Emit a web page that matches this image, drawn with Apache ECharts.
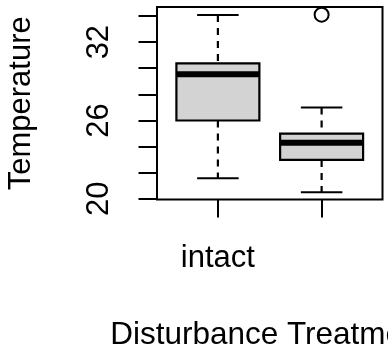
<!DOCTYPE html>
<html>
<head>
<meta charset="utf-8">
<script src="https://cdn.jsdelivr.net/npm/echarts@6/dist/echarts.min.js"></script>
<style>
	html, body { margin: 0; padding: 0; background: #fff; }
	#chart { width: 388px; height: 346px; }
</style>
</head>
<body>
<div id="chart"></div>
<script>
// 数据
var categories = ['intact', ''];
var positions = [1, 2];
var lowWhisker = [21.58, 20.51];
var q1 = [26.0, 22.98];
var median = [29.54, 24.3];
var q3 = [30.37, 25.0];
var highWhisker = [34.08, 27.0];
var outliers = [[2, 34.1]];
var yTicks = [20, 22, 24, 26, 28, 30, 32, 34];
var yLabels = [20, 26, 32];

var FONT = '"Liberation Sans", Arial, sans-serif';

var boxData = [];
for (var i = 0; i < positions.length; i++) {
	boxData.push([positions[i], lowWhisker[i], q1[i], median[i], q3[i], highWhisker[i]]);
}

// 箱线图绘制
function renderBox(params, api) {
	var x = api.value(0);
	var pLow = api.coord([x, api.value(1)]);
	var pQ1 = api.coord([x, api.value(2)]);
	var pMed = api.coord([x, api.value(3)]);
	var pQ3 = api.coord([x, api.value(4)]);
	var pHigh = api.coord([x, api.value(5)]);
	var half = api.size([0.4, 0])[0];
	var cap = api.size([0.2, 0])[0];
	var cx = pMed[0];
	var line = { stroke: '#000', lineWidth: 2 };
	var dash = { stroke: '#000', lineWidth: 2.2, lineDash: [7, 6] };
	return {
		type: 'group',
		children: [
			{ type: 'line', shape: { x1: cx, y1: pHigh[1], x2: cx, y2: pQ3[1] }, style: dash },
			{ type: 'line', shape: { x1: cx, y1: pQ1[1], x2: cx, y2: pLow[1] }, style: dash },
			{ type: 'line', shape: { x1: cx - cap, y1: pHigh[1], x2: cx + cap, y2: pHigh[1] }, style: line },
			{ type: 'line', shape: { x1: cx - cap, y1: pLow[1], x2: cx + cap, y2: pLow[1] }, style: line },
			{ type: 'rect', shape: { x: cx - half, y: pQ3[1], width: half * 2, height: pQ1[1] - pQ3[1] },
				style: { fill: '#d3d3d3', stroke: '#000', lineWidth: 2.2 } },
			{ type: 'line', shape: { x1: cx - half, y1: pMed[1], x2: cx + half, y2: pMed[1] },
				style: { stroke: '#000', lineWidth: 6 } }
		]
	};
}

var chart = echarts.init(document.getElementById('chart'));
chart.setOption({
	animation: false,
	grid: {
		left: 157, right: 5.5, top: 7, bottom: 146.5,
		containLabel: false,
		outerBoundsMode: 'none',
		show: true, borderColor: '#000', borderWidth: 2, backgroundColor: 'transparent'
	},
	xAxis: {
		type: 'value',
		min: 0.413, max: 2.587,
		name: 'Disturbance Treatment',
		nameLocation: 'middle',
		nameGap: 120,
		nameTextStyle: { color: '#000', fontSize: 31.5, fontFamily: FONT },
		splitLine: { show: false },
		axisLine: { show: false },
		axisTick: { show: true, length: 18, customValues: positions, lineStyle: { color: '#000', width: 2 } },
		axisLabel: {
			customValues: [1],
			margin: 43,
			color: '#000', fontSize: 31, fontFamily: FONT,
			formatter: function (v) { return categories[Math.round(v) - 1]; }
		}
	},
	yAxis: {
		type: 'value',
		min: 19.95, max: 34.69,
		name: 'Temperature',
		nameLocation: 'middle',
		nameGap: 120,
		nameTextStyle: { color: '#000', fontSize: 31, fontFamily: FONT },
		splitLine: { show: false },
		axisLine: { show: false },
		axisTick: { show: true, length: 18.5, customValues: yTicks, lineStyle: { color: '#000', width: 2 } },
		axisLabel: {
			customValues: yLabels,
			rotate: 90,
			margin: 42,
			color: '#000', fontSize: 31, fontFamily: FONT
		}
	},
	series: [
		{
			type: 'custom',
			renderItem: renderBox,
			data: boxData,
			silent: true
		},
		{
			type: 'scatter',
			data: outliers,
			symbol: 'circle',
			symbolSize: 14,
			itemStyle: { color: 'none', borderColor: '#000', borderWidth: 2, opacity: 1 },
			silent: true
		}
	]
});
</script>
</body>
</html>
